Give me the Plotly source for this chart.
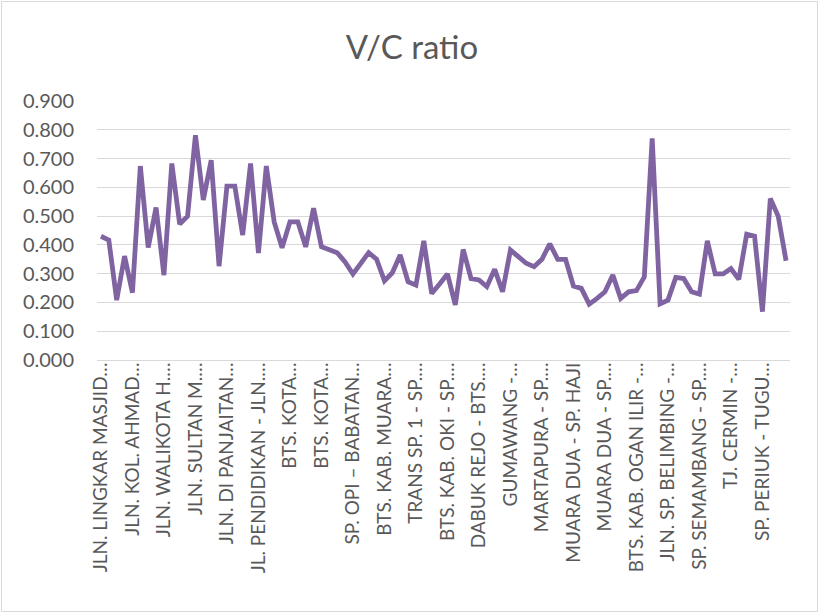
import plotly.graph_objects as go

tick_labels = [
    "JLN. LINGKAR MASJID…", "JLN. KOL. AHMAD…", "JLN. WALIKOTA H.…", "JLN. SULTAN M.…",
    "JLN. DI PANJAITAN…", "JL. PENDIDIKAN - JLN.…", "BTS. KOTA…", "BTS. KOTA…",
    "SP. OPI – BABATAN…", "BTS. KAB. MUARA…", "TRANS SP. 1 - SP.…", "BTS. KAB. OKI - SP.…",
    "DABUK REJO - BTS.…", "GUMAWANG -…", "MARTAPURA - SP.…", "MUARA DUA - SP. HAJI",
    "MUARA DUA - SP.…", "BTS. KAB. OGAN ILIR -…", "JLN. SP. BELIMBING -…", "SP. SEMAMBANG - SP.…",
    "TJ. CERMIN -…", "SP. PERIUK - TUGU…",
]

vc_ratio = [
    0.430, 0.417, 0.208, 0.361, 0.234, 0.674, 0.391, 0.530, 0.295, 0.683,
    0.472, 0.500, 0.781, 0.556, 0.694, 0.326, 0.604, 0.604, 0.434, 0.683,
    0.372, 0.674, 0.480, 0.390, 0.480, 0.480, 0.393, 0.527, 0.394, 0.382,
    0.373, 0.341, 0.299, 0.336, 0.373, 0.350, 0.275, 0.303, 0.365, 0.272,
    0.260, 0.414, 0.231, 0.264, 0.299, 0.191, 0.384, 0.283, 0.278, 0.255,
    0.315, 0.237, 0.382, 0.359, 0.336, 0.324, 0.350, 0.404, 0.350, 0.350,
    0.257, 0.249, 0.194, 0.214, 0.237, 0.295, 0.214, 0.237, 0.241, 0.289,
    0.770, 0.195, 0.208, 0.287, 0.283, 0.237, 0.229, 0.414, 0.299, 0.299,
    0.318, 0.280, 0.437, 0.430, 0.168, 0.561, 0.500, 0.345,
]

y_ticks = [0.0, 0.1, 0.2, 0.3, 0.4, 0.5, 0.6, 0.7, 0.8, 0.9]

idx = list(range(len(vc_ratio)))
label_step = 4

W, H = 820, 614
L, R, T, B = 97, 820 - 790, 101, 614 - 360
pw, ph = W - L - R, H - T - B

fig = go.Figure()
fig.add_trace(go.Scatter(
    x=idx, y=vc_ratio, mode="lines",
    line=dict(color="#8064a2", width=4.8, shape="linear"),
    hoverinfo="y",
))

fig.update_layout(
    width=W, height=H,
    margin=dict(l=L, r=R, t=T, b=B, autoexpand=False),
    paper_bgcolor="white", plot_bgcolor="white",
    showlegend=False,
    font=dict(family="Lato, Liberation Sans, sans-serif", color="#595959"),
    title=dict(text="V/C ratio", x=412 / W, xanchor="center",
               y=1 - 47 / H, yanchor="middle",
               font=dict(size=33, color="#595959")),
    xaxis=dict(
        range=[-0.5, len(vc_ratio) - 0.5],
        tickmode="array", tickvals=idx[::label_step], ticktext=tick_labels,
        tickangle=-90, tickfont=dict(size=19, color="#595959"),
        showgrid=False, zeroline=False, automargin=False,
        showline=True, linecolor="#d9d9d9", linewidth=1,
        ticks="", ticklabelstandoff=-6,
    ),
    yaxis=dict(
        range=[0, 0.9], tickmode="array", tickvals=y_ticks, tickformat=".3f",
        tickfont=dict(size=20, color="#595959"),
        showgrid=True, gridcolor="#d9d9d9", gridwidth=1,
        zeroline=False, showline=False, ticks="", automargin=False,
        ticklabelstandoff=22,
    ),
    shapes=[dict(
        type="rect", xref="paper", yref="paper", layer="below",
        x0=(1.5 - L) / pw, x1=(817.5 - L) / pw,
        y0=(H - B - 611.5) / ph, y1=(H - B - 1.5) / ph,
        line=dict(color="#d9d9d9", width=1), fillcolor="rgba(0,0,0,0)",
    )],
)

fig.write_html(
    "out.html",
    config={"displayModeBar": False},
    post_script="document.body.style.margin='0px';document.body.style.overflow='hidden';",
)
